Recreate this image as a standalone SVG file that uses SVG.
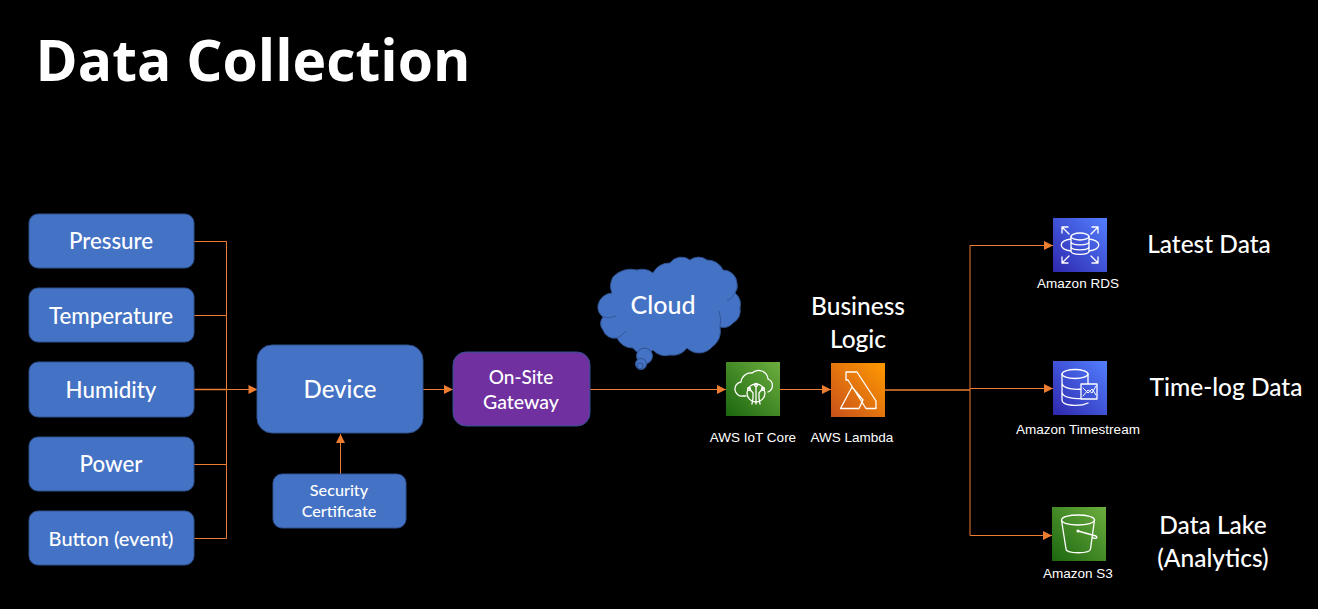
<svg xmlns="http://www.w3.org/2000/svg" width="1318" height="609" viewBox="0 0 1318 609">
<style>
text{font-family:Lato,"Noto Sans",sans-serif;fill:#fff;text-anchor:middle}
.box{fill:#4472c4;stroke:#2f528f;stroke-width:1}
.t22{font-size:22.300px;font-weight:500}
.t{font-size:24.500px;font-weight:500}
.aws{font-size:13.500px;font-family:"Liberation Sans",Arial,sans-serif}
.c{fill:none;stroke:#ed7d31;stroke-width:1}
.b{stroke-width:1.600}
.i{fill:none;stroke:#fff;stroke-width:1.300;stroke-linejoin:round;stroke-linecap:round}
.il{fill:none;stroke:#2f528f;stroke-width:.8}
</style>
<defs>
<linearGradient id="gG" x1="0" y1="1" x2="1" y2="0"><stop offset="0" stop-color="#1b660f"/><stop offset="1" stop-color="#6cae3e"/></linearGradient>
<linearGradient id="gO" x1="0" y1="1" x2="1" y2="0"><stop offset="0" stop-color="#c8511b"/><stop offset="1" stop-color="#ff9900"/></linearGradient>
<linearGradient id="gB" x1="0" y1="1" x2="1" y2="0"><stop offset="0" stop-color="#2e27ad"/><stop offset="1" stop-color="#527fff"/></linearGradient>
<marker id="a" markerUnits="userSpaceOnUse" markerWidth="12" markerHeight="12" refX="10" refY="6" orient="auto"><path d="M1 1.500L10 6L1 10.500Z" fill="#ed7d31"/></marker>
</defs>
<rect width="1318" height="609" fill="#000"/>
<text x="253" y="81" style="font-family:'Open Sans','Noto Sans',sans-serif;font-size:57px;font-weight:700">Data Collection</text>

<g id="connectors">
<path class="c" d="M194 241.500H226.500V538.500H194M194 315.500H226.500M226.500 464.500H194"/>
<path class="c b" d="M194 389.500H226.500"/>
<path class="c" d="M226.500 389.500H257.500" marker-end="url(#a)"/>
<path class="c" d="M340.500 474V434" marker-end="url(#a)"/>
<path class="c" d="M423 389.500H453" marker-end="url(#a)"/>
<path class="c" d="M590 389.500H726" marker-end="url(#a)"/>
<path class="c" d="M780 389.500H831" marker-end="url(#a)"/>
<path class="c b" d="M885 390H970"/>
<path class="c" d="M970 390V245.500H1053" marker-end="url(#a)"/>
<path class="c" d="M970 388.500H1053" marker-end="url(#a)"/>
<path class="c" d="M970 390V535.500H1052" marker-end="url(#a)"/>
</g>

<g id="pressure"><rect class="box" x="29" y="214" width="165" height="54" rx="9"/><text class="t22" x="111" y="248.500">Pressure</text></g>
<g id="temperature"><rect class="box" x="29" y="288" width="165" height="54" rx="9"/><text class="t22" x="111" y="323.500">Temperature</text></g>
<g id="humidity"><rect class="box" x="29" y="362" width="165" height="55" rx="9"/><text class="t22" x="111" y="397.500">Humidity</text></g>
<g id="power"><rect class="box" x="29" y="437" width="165" height="54" rx="9"/><text class="t22" x="111" y="471.500">Power</text></g>
<g id="button"><rect class="box" x="29" y="511" width="165" height="54" rx="9"/><text x="111" y="546" style="font-size:20px;font-weight:500">Button (event)</text></g>
<g id="device"><rect class="box" x="257" y="345" width="166" height="88" rx="15"/><text x="340" y="398" style="font-size:24px;font-weight:500">Device</text></g>
<g id="certificate"><rect class="box" x="273" y="474" width="133" height="54" rx="9"/><text x="339" y="496" style="font-size:16.200px;font-weight:500">Security</text><text x="339" y="517" style="font-size:16.200px;font-weight:500">Certificate</text></g>
<g id="gateway"><rect x="453" y="352" width="137" height="74" rx="13" fill="#7030a0" stroke="#2f528f"/><text x="521" y="384" style="font-size:19px;font-weight:500">On-Site</text><text x="521" y="409" style="font-size:19.500px;font-weight:500">Gateway</text></g>

<g id="cloud">
<path class="box" d="M598 305A15 15 0 0 1 612 293A18 18 0 0 1 613 277A24 24 0 0 1 637 270A18 18 0 0 1 653 273A18 18 0 0 1 670 263A14 14 0 0 1 690 260A14 14 0 0 1 707 260A17 17 0 0 1 723 270A14 14 0 0 1 737 283A12 12 0 0 1 735 293A15 15 0 0 1 740 308A14 14 0 0 1 733 323A13 13 0 0 1 720 327A19 19 0 0 1 712 347A17 17 0 0 1 687 348A18 18 0 0 1 670 355A16 16 0 0 1 653 350A13 13 0 0 1 633 348A17 17 0 0 1 617 338A12 12 0 0 1 603 330A10 10 0 0 1 603 317A13 13 0 0 1 598 305Z"/>
<path class="il" d="M603 317Q610 319 616 316M617 338Q622 336 626 331M720 327Q722 319 719 311M735 293Q732 299 727 301"/>
<circle class="box" cx="644.500" cy="356" r="8"/><circle class="box" cx="641" cy="364" r="5.500"/><circle class="box" cx="640" cy="366" r="3"/>
<text x="663" y="314" style="font-size:25px;font-weight:500">Cloud</text>
</g>

<g id="iot"><rect x="726" y="362" width="54" height="54" fill="url(#gG)"/>
<path class="i" d="M746 396H743A7 7 0 0 1 741 382A10 10 0 0 1 752 373A9.500 9.500 0 0 1 768 379A7 7 0 0 1 768 392"/>
<circle class="i" cx="756" cy="393" r="9"/>
<path class="i" d="M756 386V404M749 388L753 393V398L752 404M763 388L759 393V398L760 404"/>
<circle class="i" cx="756" cy="385" r="1.500"/><circle class="i" cx="749" cy="389" r="1.500"/><circle class="i" cx="763" cy="389" r="1.500"/>
<text class="aws" x="753" y="442">AWS IoT Core</text></g>

<g id="lambda"><rect x="831" y="363" width="54" height="54" fill="url(#gO)"/>
<path class="i" d="M846 372H857L876 401V408.500H866L848 380H846ZM852 387L840.500 408.500H859L863 400Z"/>
<text class="aws" x="852" y="442">AWS Lambda</text></g>

<g id="rds"><rect x="1053" y="218" width="54" height="54" fill="url(#gB)"/>
<ellipse class="i" cx="1080" cy="236.500" rx="9" ry="3.500"/>
<path class="i" d="M1071 236.500V251C1071 255.500 1089 255.500 1089 251V236.500M1071 241.500C1071 246 1089 246 1089 241.500M1071 246.500C1071 251 1089 251 1089 246.500M1071 239C1058 241 1058 249 1071 251M1089 239C1102 241 1102 249 1089 251M1062 227L1069 234M1062 227V233M1062 227H1068M1098 227L1091 234M1098 227V233M1098 227H1092M1062 263L1069 256M1062 263V257M1062 263H1068M1098 263L1091 256M1098 263V257M1098 263H1092"/>
<text class="aws" x="1078" y="288">Amazon RDS</text></g>

<g id="timestream"><rect x="1053" y="361" width="54" height="54" fill="url(#gB)"/>
<ellipse class="i" cx="1075" cy="374" rx="13" ry="4.500"/>
<path class="i" d="M1062 374V400C1062 406 1080 407 1088 403M1062 383C1062 389 1077 390 1081 389M1062 392C1062 398 1076 399 1081 398.500M1088 374V383.500M1081 384H1097V399H1081Z"/>
<path class="i" d="M1083 396L1088 390L1092 393L1096 386M1083 388L1088 393L1092 389L1096 395" style="stroke-width:1"/>
<text class="aws" x="1078" y="434">Amazon Timestream</text></g>

<g id="s3"><rect x="1052" y="507" width="54" height="54" fill="url(#gG)"/>
<ellipse class="i" cx="1078" cy="520" rx="16.500" ry="5"/>
<path class="i" d="M1061.500 520L1066 549C1066 554 1090 554 1090.500 549L1094.500 520M1078 531L1096 536C1099 539 1094 539 1092 537"/>
<circle cx="1078" cy="531" r="1.500" fill="#fff"/>
<text class="aws" x="1078" y="578">Amazon S3</text></g>

<text class="t" x="858" y="315">Business</text><text class="t" x="858" y="348">Logic</text>
<text class="t" x="1209" y="253">Latest Data</text>
<text class="t" x="1226" y="396">Time-log Data</text>
<text class="t" x="1213" y="534">Data Lake</text><text class="t" x="1213" y="567">(Analytics)</text>
</svg>
